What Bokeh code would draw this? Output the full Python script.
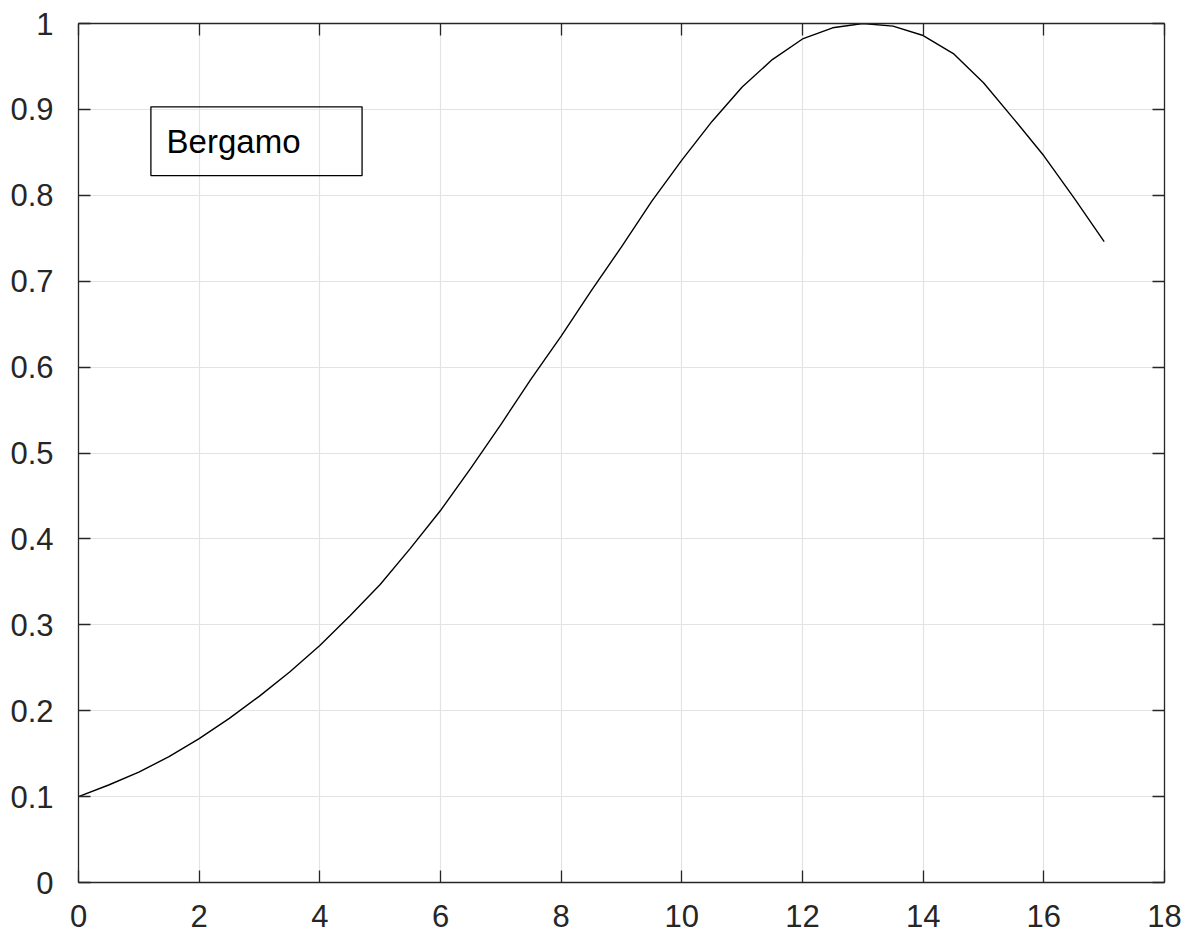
from bokeh.plotting import figure
from bokeh.models import LinearAxis, FixedTicker, Range1d, BoxAnnotation, Label
from bokeh.embed import file_html
from bokeh.resources import INLINE

# ---- data ----
x_vals = [0, 0.5, 1, 1.5, 2, 2.5, 3, 3.5, 4, 4.5, 5, 5.5, 6, 6.5, 7, 7.5, 8, 8.5,
          9, 9.5, 10, 10.5, 11, 11.5, 12, 12.5, 13, 13.5, 14, 14.5, 15, 15.5, 16, 16.5, 17]
y_vals = [0.100, 0.1135, 0.1285, 0.1465, 0.1675, 0.191, 0.217, 0.245, 0.276, 0.3105, 0.347,
          0.389, 0.433, 0.482, 0.533, 0.586, 0.636, 0.689, 0.740, 0.793, 0.841, 0.886,
          0.926, 0.958, 0.982, 0.995, 1.000, 0.997, 0.986, 0.965, 0.931, 0.889, 0.846,
          0.797, 0.746]
x_ticks = [0, 2, 4, 6, 8, 10, 12, 14, 16, 18]
x_tick_labels = ["0", "2", "4", "6", "8", "10", "12", "14", "16", "18"]
y_ticks = [0, 0.1, 0.2, 0.3, 0.4, 0.5, 0.6, 0.7, 0.8, 0.9, 1.0]
y_tick_labels = ["0", "0.1", "0.2", "0.3", "0.4", "0.5", "0.6", "0.7", "0.8", "0.9", "1"]
box_text = "Bergamo"

FONT = "Liberation Sans"
AX = "#262626"

p = figure(width=1190, height=940, output_backend="svg", toolbar_location=None,
           x_range=Range1d(0, 18), y_range=Range1d(0, 1),
           min_border_left=78, min_border_right=26, min_border_top=23, min_border_bottom=58,
           x_axis_location=None, y_axis_location=None)
p.outline_line_color = None
p.background_fill_color = "white"
p.border_fill_color = "white"

def style_axis(ax, ticks, labels, show_labels):
    ax.ticker = FixedTicker(ticks=ticks)
    ax.axis_line_color = AX
    ax.axis_line_width = 1.3
    ax.major_tick_line_color = AX
    ax.major_tick_line_width = 1.3
    ax.major_tick_in = 12
    ax.major_tick_out = 0
    ax.minor_tick_line_color = None
    ax.major_label_text_font = FONT
    ax.major_label_text_color = AX
    ax.major_label_text_font_size = "31px"
    if show_labels:
        ax.major_label_overrides = {t: l for t, l in zip(ticks, labels)}
    else:
        ax.major_label_overrides = {t: "" for t in ticks}
        ax.major_label_standoff = 0

xb = LinearAxis()
style_axis(xb, x_ticks, x_tick_labels, True)
xb.major_label_standoff = 22
p.add_layout(xb, "below")

xt = LinearAxis()
style_axis(xt, x_ticks, x_tick_labels, False)
p.add_layout(xt, "above")

yl = LinearAxis()
style_axis(yl, y_ticks, y_tick_labels, True)
yl.major_label_standoff = 25
p.add_layout(yl, "left")

yr = LinearAxis()
style_axis(yr, y_ticks, y_tick_labels, False)
p.add_layout(yr, "right")

p.xgrid.ticker = FixedTicker(ticks=x_ticks)
p.ygrid.ticker = FixedTicker(ticks=y_ticks)
for g in (p.xgrid, p.ygrid):
    g.grid_line_color = "#e3e3e3"
    g.grid_line_width = 1.2

p.line(x_vals, y_vals, line_color="black", line_width=1.4, line_join="round")

box = BoxAnnotation(left=1.2, right=4.7, bottom=0.823, top=0.903,
                    fill_alpha=0, line_color="black", line_width=1.3, line_alpha=1)
p.add_layout(box)
lab = Label(x=1.46, y=0.863, text=box_text, text_font=FONT, text_font_size="33px",
            text_color="black", text_baseline="alphabetic", text_align="left")
p.add_layout(lab)

open("out.html", "w").write(file_html(p, INLINE))
